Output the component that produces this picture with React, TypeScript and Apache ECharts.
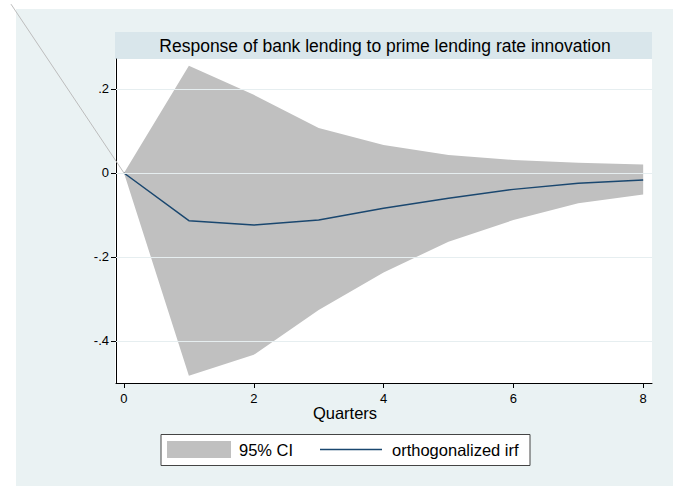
import React, { useEffect, useRef } from "react";
import * as echarts from "echarts";

const quarters = [0, 1, 2, 3, 4, 5, 6, 7, 8];
const irf = [0, -0.1135, -0.124, -0.112, -0.084, -0.06, -0.039, -0.0246, -0.0167];
const upperCI = [0, 0.2555, 0.186, 0.107, 0.0667, 0.043, 0.031, 0.0246, 0.02];
const lowerCI = [0, -0.483, -0.433, -0.326, -0.237, -0.1635, -0.112, -0.072, -0.051];
const xTicks = [0, 2, 4, 6, 8];
const yTicks = [-0.4, -0.2, 0, 0.2];
const artifactLine = [
  [-1.741, 0.402],
  [0, 0],
];

const FONT = "Liberation Sans, Arial, Helvetica, sans-serif";

function fmtY(v: number) {
  if (Math.abs(v) < 1e-9) return "0";
  const s = String(Math.round(v * 10) / 10);
  return s.replace("0.", ".");
}

export default function App() {
  const ref = useRef<HTMLDivElement>(null);
  useEffect(() => {
    document.body.style.margin = "0";
    if (!ref.current) return;
    const chart = echarts.init(ref.current, null, { renderer: "svg" });
    const line = quarters.map((q, i) => [q, irf[i]]);
    chart.setOption({
      animation: false,
      backgroundColor: "#ffffff",
      grid: { left: 116, right: 29, top: 59, bottom: 103, containLabel: false },
      xAxis: {
        type: "value",
        min: -0.123,
        max: 8.136,
        axisLine: { show: true, onZero: false, lineStyle: { color: "#000", width: 1 } },
        axisTick: { show: true, length: 5, customValues: xTicks, lineStyle: { color: "#000" } },
        axisLabel: {
          customValues: xTicks,
          color: "#000",
          fontFamily: FONT,
          fontSize: 13,
          margin: 9,
          showMinLabel: true,
          showMaxLabel: true,
        },
        splitLine: { show: false },
      },
      yAxis: {
        type: "value",
        min: -0.5,
        max: 0.2714,
        axisLine: { show: true, onZero: false, lineStyle: { color: "#000", width: 1 } },
        axisTick: { show: true, length: 5, customValues: yTicks, lineStyle: { color: "#000" } },
        axisLabel: {
          customValues: yTicks,
          color: "#000",
          fontFamily: FONT,
          fontSize: 13,
          margin: 7,
          formatter: (v: number) => fmtY(v),
        },
        splitLine: { show: false },
      },
      graphic: [
        {
          type: "rect",
          z: -10,
          silent: true,
          shape: { x: 16, y: 9, width: 657, height: 477 },
          style: { fill: "#EAF2F3" },
        },
        {
          type: "rect",
          z: -9,
          silent: true,
          shape: { x: 115, y: 59, width: 537, height: 324 },
          style: { fill: "#ffffff" },
        },
        {
          type: "rect",
          z: -9,
          silent: true,
          shape: { x: 115, y: 32, width: 537, height: 27 },
          style: { fill: "#D9E6EB" },
        },
        {
          type: "text",
          z: 10,
          x: 385,
          y: 46,
          style: {
            text: "Response of bank lending to prime lending rate innovation",
            fill: "#000",
            font: `17.5px ${FONT}`,
            align: "center",
            verticalAlign: "middle",
          },
        },
        {
          type: "text",
          z: 10,
          x: 345,
          y: 413,
          style: {
            text: "Quarters",
            fill: "#000",
            font: `16.5px ${FONT}`,
            align: "center",
            verticalAlign: "middle",
          },
        },
        {
          type: "rect",
          z: 10,
          shape: { x: 161, y: 434.5, width: 369, height: 31 },
          style: { fill: "#ffffff", stroke: "#444", lineWidth: 1 },
        },
        {
          type: "rect",
          z: 11,
          shape: { x: 167, y: 441, width: 64, height: 17 },
          style: { fill: "#C0C0C0" },
        },
        {
          type: "text",
          z: 11,
          x: 239,
          y: 450,
          style: {
            text: "95% CI",
            fill: "#000",
            font: `16.5px ${FONT}`,
            align: "left",
            verticalAlign: "middle",
          },
        },
        {
          type: "line",
          z: 11,
          shape: { x1: 320, y1: 449.5, x2: 382, y2: 449.5 },
          style: { stroke: "#1A476F", lineWidth: 1.5 },
        },
        {
          type: "text",
          z: 11,
          x: 392,
          y: 450,
          style: {
            text: "orthogonalized irf",
            fill: "#000",
            font: `16.5px ${FONT}`,
            align: "left",
            verticalAlign: "middle",
          },
        },
      ],
      series: [
        {
          type: "line",
          name: "gridlines",
          data: [],
          silent: true,
          z: 0,
          markLine: {
            silent: true,
            symbol: "none",
            label: { show: false },
            lineStyle: { color: "#E6EEF0", width: 1, type: "solid" },
            data: yTicks.map((v) => ({ yAxis: v })),
          },
        },
        {
          type: "custom",
          name: "95% CI",
          data: [[0, 0]],
          silent: true,
          z: 2,
          renderItem: (params: any, api: any) => {
            if (params.dataIndex !== 0) return null;
            const up = quarters.map((q, i) => api.coord([q, upperCI[i]]));
            const lo = quarters.map((q, i) => api.coord([q, lowerCI[i]])).reverse();
            return {
              type: "polygon",
              shape: { points: [...up, ...lo] },
              style: { fill: "#C0C0C0", stroke: "none" },
            };
          },
        },
        {
          type: "custom",
          name: "artifact",
          data: [[0, 0]],
          silent: true,
          clip: false,
          z: 3,
          renderItem: (params: any, api: any) => {
            if (params.dataIndex !== 0) return null;
            const a = api.coord(artifactLine[0]);
            const b = api.coord(artifactLine[1]);
            return {
              type: "line",
              shape: { x1: a[0], y1: a[1], x2: b[0], y2: b[1] },
              style: { stroke: "#BDBDBD", lineWidth: 1 },
            };
          },
        },
        {
          type: "line",
          name: "orthogonalized irf",
          data: line,
          symbol: "none",
          lineStyle: { color: "#1A476F", width: 1.5 },
          z: 4,
        },
      ],
    });
    return () => chart.dispose();
  }, []);
  return <div ref={ref} style={{ width: 681, height: 486 }} />;
}
